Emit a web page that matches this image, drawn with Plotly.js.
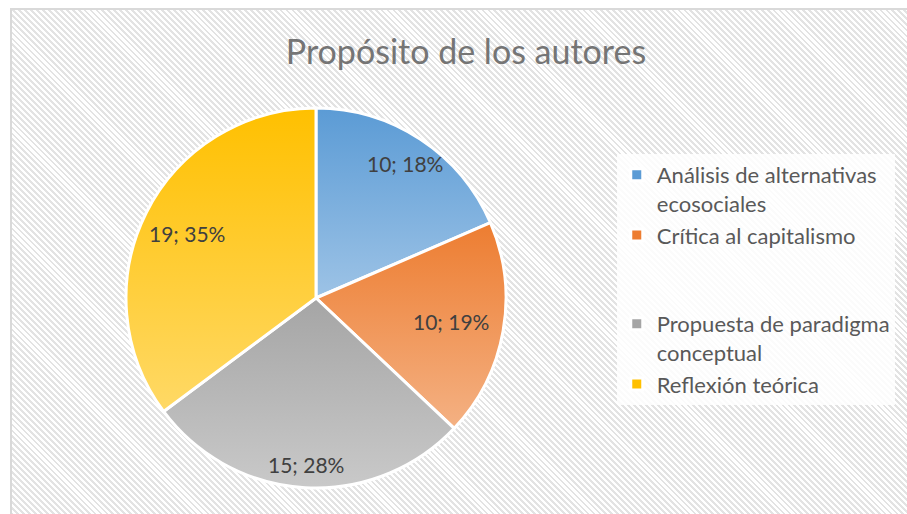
<!DOCTYPE html>
<html>
<head>
<meta charset="utf-8">
<script src="https://cdn.plot.ly/plotly-3.0.1.min.js"></script>
<style>
  html, body { margin: 0; padding: 0; background: #ffffff; }
  #wrap { position: relative; width: 907px; height: 514px; overflow: hidden; }
  #frame {
    position: absolute; left: 10px; top: 8px; width: 907px; height: 520px;
    border-left: 2px solid #d9d9d9; border-top: 2px solid #d9d9d9;
    background: repeating-linear-gradient(45deg, #ffffff 0px, #ffffff 2.2px, #e3e3e3 2.2px, #e3e3e3 4.2px);
  }
  #chart { position: absolute; left: 0; top: 0; width: 907px; height: 514px; }
</style>
</head>
<body>
<div id="wrap">
  <div id="frame"></div>
  <div id="chart"></div>
</div>
<script>
// ---- data ----
const categories = [
  "Análisis de alternativas<br>ecosociales",
  "Crítica al capitalismo<br> <br> ",
  "Propuesta de paradigma<br>conceptual",
  "Reflexión teórica"
];
const counts = [10, 10, 15, 19];
const percentLabels = [18, 19, 28, 35];
const baseColors = ["#5b9bd5", "#ed7d31", "#a5a5a5", "#ffc000"];
const gradTop = ["#5b9bd5", "#ed7d31", "#a5a5a5", "#ffc000"];
const gradBottom = ["#9dc3e6", "#f4b183", "#c9c9c9", "#ffd966"];

const sliceText = counts.map((c, i) => c + "; " + percentLabels[i] + "%");

// pie geometry (paper px)
const W = 907, H = 514;
const dom = { x: [126 / W, 506 / W], y: [26 / H, 406 / H] };
// Excel "best fit" label distance as a fraction of the radius
const labelRadius = [0.85, 0.72, 0.88, 0.76];

const trace = {
  type: "pie",
  labels: categories,
  values: counts,
  textinfo: "none",
  sort: false,
  direction: "clockwise",
  rotation: 0,
  marker: { colors: baseColors, line: { color: "#ffffff", width: 3 } },
  domain: dom,
  hoverinfo: "none"
};

// label annotations placed at each slice's mid-angle, computed from the values
const total = counts.reduce((a, b) => a + b, 0);
const cxPx = (dom.x[0] + dom.x[1]) / 2 * W;
const cyPx = (1 - (dom.y[0] + dom.y[1]) / 2) * H;
const rPx = Math.min((dom.x[1] - dom.x[0]) * W, (dom.y[1] - dom.y[0]) * H) / 2;
let cum = 0;
const annotations = counts.map((v, i) => {
  const mid = (cum + v / 2) / total * 2 * Math.PI;
  cum += v;
  const r = rPx * labelRadius[i];
  const px = cxPx + r * Math.sin(mid);
  const py = cyPx - r * Math.cos(mid);
  return {
    xref: "paper", yref: "paper",
    x: px / W, y: 1 - py / H,
    xanchor: "center", yanchor: "middle",
    text: sliceText[i], showarrow: false,
    font: { family: "Lato, 'Liberation Sans', sans-serif", size: 21, color: "#404040" }
  };
});

const layout = {
  width: W, height: H,
  margin: { l: 0, r: 0, t: 0, b: 0 },
  paper_bgcolor: "rgba(0,0,0,0)",
  plot_bgcolor: "rgba(0,0,0,0)",
  title: {
    text: "Propósito de los autores",
    font: { family: "Lato, 'Liberation Sans', sans-serif", size: 34, color: "#757575" },
    x: 466 / W, xanchor: "center", y: 1 - 52 / H, yanchor: "middle"
  },
  annotations: annotations,
  showlegend: true,
  legend: {
    x: 0.68, xanchor: "left", y: 1 - 154 / H, yanchor: "top",
    bgcolor: "rgba(255,255,255,0.85)",
    font: { family: "Lato, 'Liberation Sans', sans-serif", size: 22, color: "#595959" },
    valign: "top",
    itemclick: false, itemdoubleclick: false
  }
};

function applyGradients(gd) {
  const svg = gd.querySelector("svg.main-svg");
  if (!svg) return;
  let defs = svg.querySelector("defs");
  const ns = "http://www.w3.org/2000/svg";
  if (!defs) { defs = document.createElementNS(ns, "defs"); svg.insertBefore(defs, svg.firstChild); }
  gradTop.forEach((c, i) => {
    const id = "sliceGrad" + i;
    if (svg.querySelector("#" + id)) return;
    const lg = document.createElementNS(ns, "linearGradient");
    lg.setAttribute("id", id);
    lg.setAttribute("x1", "0"); lg.setAttribute("y1", "0");
    lg.setAttribute("x2", "0"); lg.setAttribute("y2", "1");
    const s1 = document.createElementNS(ns, "stop");
    s1.setAttribute("offset", "0"); s1.setAttribute("stop-color", c);
    const s2 = document.createElementNS(ns, "stop");
    s2.setAttribute("offset", "1"); s2.setAttribute("stop-color", gradBottom[i]);
    lg.appendChild(s1); lg.appendChild(s2);
    defs.appendChild(lg);
  });
  const slices = gd.querySelectorAll("g.slice path.surface");
  slices.forEach((p, i) => { p.style.fill = "url(#sliceGrad" + (i % 4) + ")"; });
}

Plotly.newPlot("chart", [trace], layout, { displayModeBar: false, staticPlot: true })
  .then(gd => applyGradients(gd));
</script>
</body>
</html>
